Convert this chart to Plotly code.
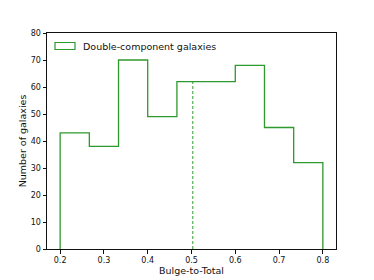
import plotly.graph_objects as go

bin_edges = [0.2, 0.26667, 0.33333, 0.4, 0.46667, 0.53333, 0.6, 0.66667, 0.73333, 0.8]
counts = [43, 38, 70, 49, 62, 62, 68, 45, 32]
median_bt = 0.503
series_name = "Double-component galaxies"

x_step = [bin_edges[0]] + bin_edges
y_step = [0] + counts + [0]

med_idx = max(i for i in range(len(counts)) if bin_edges[i] <= median_bt)
med_height = counts[med_idx]

green = "#2e9a2e"
# page body has an 8px margin; size the figure so the plot lands where the reference has it
OFF = 8
W, H = 366, 272
ml, mr, mt, mb = 47 - OFF, 38, 33 - OFF, 31
pw, ph = W - ml - mr, H - mt - mb

fig = go.Figure()
fig.add_trace(go.Scatter(
    x=x_step, y=y_step, mode="lines", line_shape="hv",
    line=dict(color=green, width=1.3),
    name=series_name, showlegend=False,
))
fig.add_trace(go.Scatter(
    x=[median_bt, median_bt], y=[0, med_height], mode="lines",
    line=dict(color=green, width=1, dash="3px,2px"),
    showlegend=False,
))

# manual legend (patch + label), given in window pixels
def px_x(p):
    return (p - OFF - ml) / pw
def px_y(p):
    return 1 - (p - OFF - mt) / ph

fig.add_shape(type="rect", xref="paper", yref="paper",
              x0=px_x(55), x1=px_x(75), y0=px_y(49.5), y1=px_y(42.5),
              line=dict(color=green, width=1.2), fillcolor="rgba(0,0,0,0)")
fig.add_annotation(xref="paper", yref="paper", x=px_x(81), y=px_y(46),
                   xanchor="left", yanchor="middle", showarrow=False,
                   text=series_name, font=dict(size=9.5, color="#111"))

font = "DejaVu Sans"
fig.update_layout(
    width=W, height=H,
    margin=dict(l=ml, r=mr, t=mt, b=mb, autoexpand=False),
    paper_bgcolor="white", plot_bgcolor="white",
    font=dict(family=font, size=8, color="#111"),
    showlegend=False,
    xaxis=dict(range=[0.17, 0.83], tickvals=[0.2, 0.3, 0.4, 0.5, 0.6, 0.7, 0.8],
               ticktext=["0.2", "0.3", "0.4", "0.5", "0.6", "0.7", "0.8"],
               automargin=False,
               showgrid=False, zeroline=False, showline=True, linecolor="#111",
               linewidth=1, mirror=True, ticks="outside", ticklen=3.5,
               tickcolor="#111",
               title=dict(text="Bulge-to-Total", font=dict(size=9.5), standoff=2)),
    yaxis=dict(range=[0, 80], tickvals=[0, 10, 20, 30, 40, 50, 60, 70, 80],
               automargin=False,
               showgrid=False, zeroline=False, showline=True, linecolor="#111",
               linewidth=1, mirror=True, ticks="outside", ticklen=3.5,
               tickcolor="#111",
               title=dict(text="Number of galaxies", font=dict(size=9.5), standoff=2)),
)
fig.write_html("out.html")
